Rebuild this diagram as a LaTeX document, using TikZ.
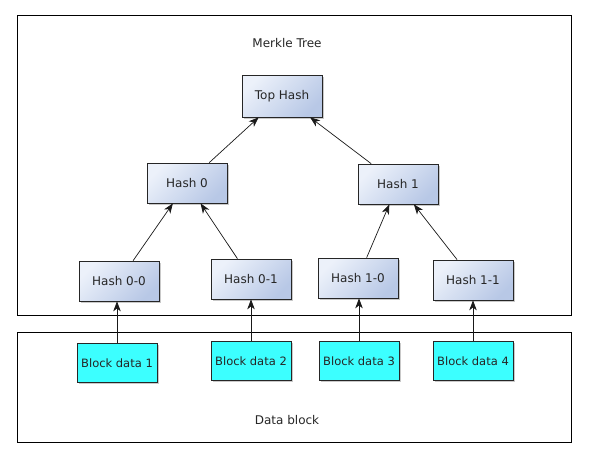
\documentclass[tikz,border=0pt]{standalone}
\usepackage{fontspec}
\setmainfont{DejaVu Sans}
\usetikzlibrary{arrows.meta,shadows}
\definecolor{hlight}{RGB}{236,241,250}
\definecolor{hdark}{RGB}{184,200,230}
\definecolor{bcyan}{RGB}{60,255,255}
\tikzset{
  hashbox/.style={draw=black!85, line width=0.7pt, minimum width=80pt, minimum height=40pt,
    top color=hlight, bottom color=hdark, shading angle=45,
    drop shadow={shadow xshift=1.5pt, shadow yshift=-1.5pt, opacity=0.35, fill=black!60},
    font=\fontsize{12}{14}\selectfont, text=black!85},
  blockbox/.style={draw=black!85, line width=0.7pt, minimum width=80pt, minimum height=39pt,
    fill=bcyan,
    drop shadow={shadow xshift=1.5pt, shadow yshift=-1.5pt, opacity=0.35, fill=black!60},
    font=\fontsize{11.5}{14}\selectfont, text=black!85},
  frame/.style={draw=black, line width=0.9pt},
  lbl/.style={font=\fontsize{12}{14}\selectfont, text=black!85},
  conn/.style={draw=black!90, line width=0.7pt, -{Stealth[length=10pt,width=7.5pt,inset=3pt]}}
}
\begin{document}
\begin{tikzpicture}[x=1pt,y=-1pt]
\useasboundingbox (0,0) rectangle (595,464);
\fill[white] (0,0) rectangle (595,464);
\draw[frame] (17,15) rectangle (571,315);
\draw[frame] (17,332) rectangle (571,442);
\node[lbl] (tmt) at (287,43) {Merkle Tree};
\node[lbl] (tdb) at (287,420) {Data block};

\node[hashbox, minimum height=42pt] (top) at (282,96) {Top Hash};
\node[hashbox] (h0) at (187,183) {Hash 0};
\node[hashbox] (h1) at (398,184) {Hash 1};
\node[hashbox] (h00) at (119,281) {Hash 0-0};
\node[hashbox] (h01) at (251,279) {Hash 0-1};
\node[hashbox] (h10) at (358,278) {Hash 1-0};
\node[hashbox] (h11) at (473,280) {Hash 1-1};

\node[blockbox] (b1) at (117,363) {Block data 1};
\node[blockbox] (b2) at (251,361) {Block data 2};
\node[blockbox] (b3) at (359,361) {Block data 3};
\node[blockbox] (b4) at (473,361) {Block data 4};

\draw[conn] (h0) -- (top);
\draw[conn] (h1) -- (top);
\draw[conn] (h00) -- (h0);
\draw[conn] (h01) -- (h0);
\draw[conn] (h10) -- (h1);
\draw[conn] (h11) -- (h1);
\draw[conn] (b1.north) -- (b1.north |- h00.south);
\draw[conn] (b2.north) -- (b2.north |- h01.south);
\draw[conn] (b3.north) -- (b3.north |- h10.south);
\draw[conn] (b4.north) -- (b4.north |- h11.south);
\end{tikzpicture}
\end{document}
